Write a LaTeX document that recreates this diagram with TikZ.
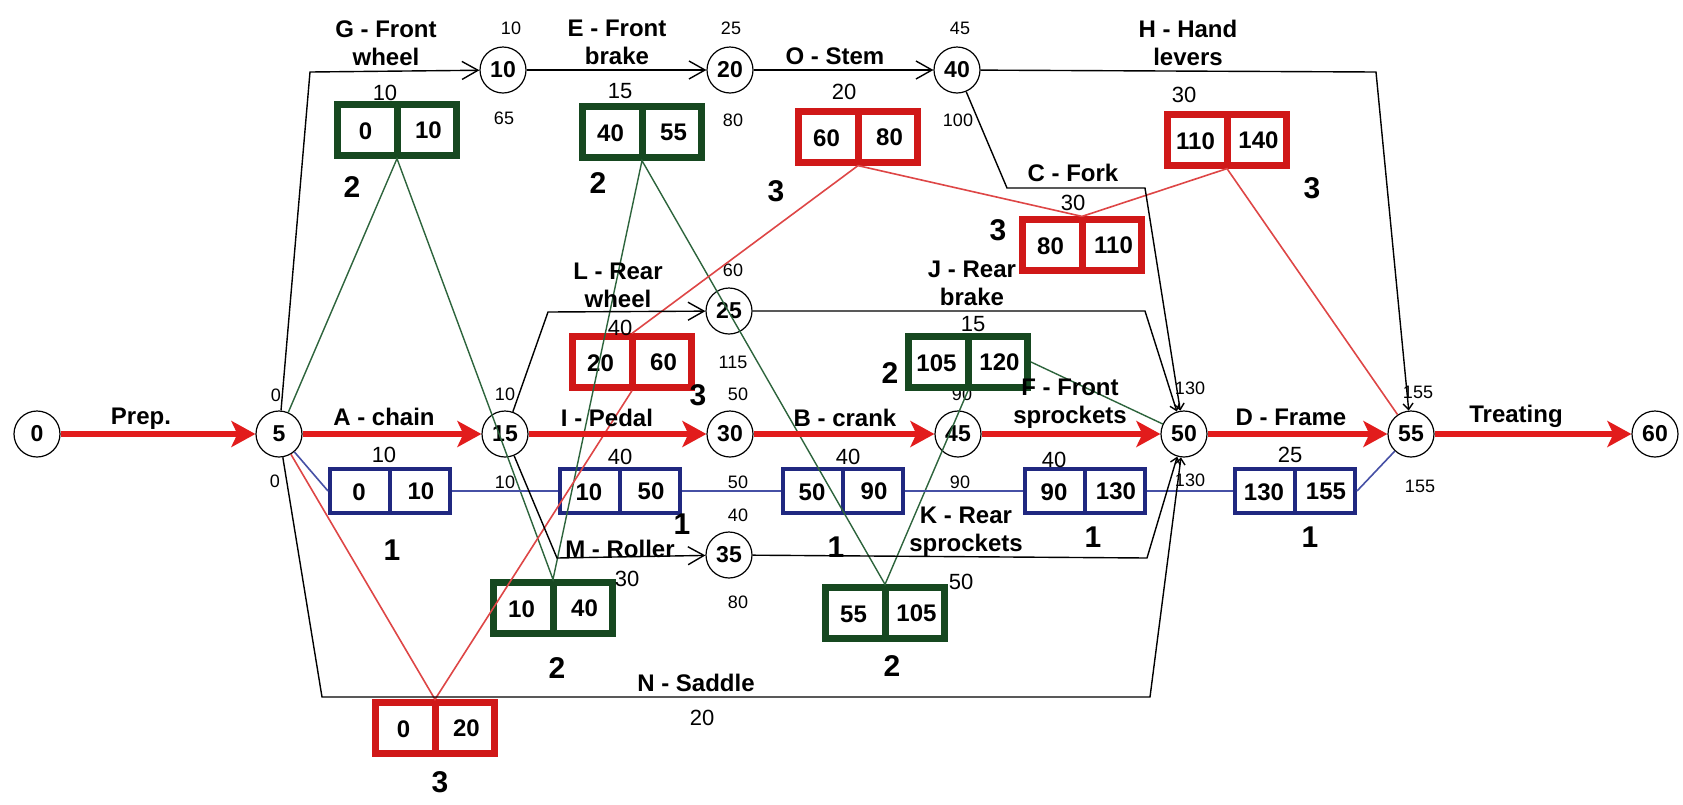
\documentclass[tikz,border=0pt]{standalone}
\usepackage{fontspec}
\setmainfont{Liberation Sans}
\usetikzlibrary{arrows.meta,shapes.multipart}
\definecolor{critred}{RGB}{226,28,28}
\definecolor{teamgreen}{RGB}{22,72,32}
\definecolor{teamred}{RGB}{208,24,24}
\definecolor{teamblue}{RGB}{32,40,128}
\definecolor{linkgreen}{RGB}{45,100,60}
\definecolor{linkred}{RGB}{222,70,70}
\definecolor{linkblue}{RGB}{70,80,165}

\begin{document}
\begin{tikzpicture}[x=0.5pt,y=-0.5pt,
ev/.style={draw,circle,minimum size=23pt,inner sep=0pt,line width=.6pt,font=\fontsize{11.5}{12}\selectfont\bfseries},
crit/.style={-{Stealth[length=12pt,width=13pt,inset=3pt]},line width=2.6pt,critred},
act/.style={-{Straight Barb[length=8pt,width=9pt]},line width=.7pt},
actin/.style={-{Straight Barb[length=3pt,width=5pt]},line width=.7pt},
lbl/.style={font=\fontsize{12}{14}\selectfont\bfseries,align=center,inner sep=0pt},
dur/.style={font=\fontsize{11}{12}\selectfont,inner sep=0pt},
tm/.style={font=\fontsize{9}{10}\selectfont,inner sep=0pt},
team/.style={font=\fontsize{15}{16}\selectfont\bfseries,inner sep=0pt},
sched/.style={rectangle split,rectangle split horizontal,rectangle split parts=2,draw,text width=23pt,align=center,inner xsep=2.5pt,inner ysep=8pt,text height=9pt,text depth=0pt,font=\fontsize{12}{13}\selectfont\bfseries,line width=3.5pt},
gbox/.style={sched,draw=teamgreen},rbox/.style={sched,draw=teamred},
bbox/.style={sched,draw=teamblue,line width=2pt,text width=24pt,inner ysep=6.5pt},
glink/.style={linkgreen,line width=.7pt},rlink/.style={linkred,line width=.8pt},blink/.style={linkblue,line width=.8pt}]
\path[use as bounding box,fill=white] (0,0) rectangle (1683,804);
% events
\node[ev] (e0) at (37,434) {0};
\node[ev] (e5) at (279,434) {5};
\node[ev] (e15) at (505,434) {15};
\node[ev] (e30) at (730,434) {30};
\node[ev] (e45) at (958,434) {45};
\node[ev] (e50) at (1184,434) {50};
\node[ev] (e55) at (1411,434) {55};
\node[ev] (e60) at (1655,434) {60};
\node[ev] (e10) at (503,70) {10};
\node[ev] (e20) at (730,70) {20};
\node[ev] (e40) at (957,70) {40};
\node[ev] (e25) at (729,311) {25};
\node[ev] (e35) at (729,555) {35};
% early / late times
\foreach \n/\x/\y/\t in {5a/276/395/0,5b/275/481/0,15a/505/394/10,15b/505/482/10,30a/738/394/50,30b/738/482/50,45a/962/394/90,45b/960/482/90,
50a/1190/388/130,50b/1190/480/130,55a/1418/392/155,55b/1420/486/155,10a/511/28/10,10b/504/118/65,20a/731/28/25,20b/733/120/80,
40a/960/28/45,40b/958/120/100,25a/733/270/60,25b/733/362/115,35a/738/515/40,35b/738/602/80}
  \node[tm] (t\n) at (\x,\y) {\t};
% schedule boxes
\node[gbox] (bG) at (397,130) {0\nodepart{two}10};
\node[gbox] (bE) at (642,132) {40\nodepart{two}55};
\node[gbox] (bM) at (553,608) {10\nodepart{two}40};
\node[gbox] (bK) at (885,613) {55\nodepart{two}105};
\node[gbox] (bJ) at (968,362) {105\nodepart{two}120};
\node[rbox] (bO) at (858,137) {60\nodepart{two}80};
\node[rbox] (bH) at (1227,140) {110\nodepart{two}140};
\node[rbox] (bC) at (1082,245) {80\nodepart{two}110};
\node[rbox] (bL) at (632,362) {20\nodepart{two}60};
\node[rbox] (bN) at (435,728) {0\nodepart{two}20};
\node[bbox] (bA) at (390,491) {0\nodepart{two}10};
\node[bbox] (bI) at (620,491) {10\nodepart{two}50};
\node[bbox] (bB) at (843,491) {50\nodepart{two}90};
\node[bbox] (bF) at (1085,491) {90\nodepart{two}130};
\node[bbox] (bD) at (1295,491) {130\nodepart{two}155};
% schedule links
\draw[glink] (e5)--(bG.south)--(bM.north)--(bE.south)--(bK.north)--(bJ.south);\draw[glink] (bJ.east)--(e50);
\draw[rlink] (e5)--(bN.north)--(bL.south);\draw[rlink] (bL.north)--(bO.south)--(bC.north)--(bH.south)--(e55);
\draw[blink] (e5)--(bA.west);\draw[blink] (bA.east)--(bI.west);\draw[blink] (bI.east)--(bB.west);
\draw[blink] (bB.east)--(bF.west);\draw[blink] (bF.east)--(bD.west);\draw[blink] (bD.east)--(e55);
% activities
\draw[act] (e5)--(310,72)--(e10);\draw[act] (e10)--(e20);\draw[act] (e20)--(e40);
\draw[actin] (e40)--(1376,72)--(e55);
\draw[actin] (e40)--(1007,188)--(1145,188)--(e50);
\draw[act] (e15)--(548,312)--(e25);\draw[actin] (e25)--(1145,311)--(e50);
\draw[act] (e15)--(557,558)--(e35);\draw[actin] (e35)--(1147,558)--(e50);
\draw[actin] (e5)--(322,697)--(1150,697)--(e50);
\draw[crit] (e0)--(e5);\draw[crit] (e5)--(e15);\draw[crit] (e15)--(e30);\draw[crit] (e30)--(e45);
\draw[crit] (e45)--(e50);\draw[crit] (e50)--(e55);\draw[crit] (e55)--(e60);
% activity labels
\node[lbl] (lPrep) at (141,419) {Prep.};
\node[lbl] (lA) at (384,417) {A - chain};\node[dur] (dA) at (384,455) {10};
\node[lbl] (lI) at (607,418) {I - Pedal};\node[dur] (dI) at (620,457) {40};
\node[lbl] (lB) at (845,418) {B - crank};\node[dur] (dB) at (848,457) {40};
\node[lbl] (lF) at (1070,404) {F - Front\\sprockets};\node[dur] (dF) at (1054,460) {40};
\node[lbl] (lD) at (1291,417) {D - Frame};\node[dur] (dD) at (1290,455) {25};
\node[lbl] (lT) at (1516,416) {Treating};
\node[lbl] (lG) at (386,43) {G - Front\\wheel};\node[dur] (dG) at (385,93) {10};
\node[lbl] (lE) at (617,42) {E - Front\\brake};\node[dur] (dE) at (620,91) {15};
\node[lbl] (lO) at (835,56) {O - Stem};\node[dur] (dO) at (844,92) {20};
\node[lbl] (lH) at (1188,43) {H - Hand\\levers};\node[dur] (dH) at (1184,95) {30};
\node[lbl] (lC) at (1073,173) {C - Fork};\node[dur] (dC) at (1073,203) {30};
\node[lbl] (lL) at (618,285) {L - Rear\\wheel};\node[dur] (dL) at (620,328) {40};
\node[lbl] (lJ) at (972,283) {J - Rear\\brake};\node[dur] (dJ) at (973,324) {15};
\node[lbl] (lM) at (620,549) {M - Roller};\node[dur] (dM) at (627,579) {30};
\node[lbl] (lK) at (966,532) {K - Rear\\sprockets};\node[dur] (dK) at (961,582) {50};
\node[lbl] (lN) at (696,683) {N - Saddle};\node[dur] (dN) at (702,718) {20};
% teams
\foreach \n/\x/\y/\t in {G/352/187/2,E/598/183/2,O/776/191/3,H/1312/188/3,C/998/230/3,L/698/395/3,N/440/782/3,M/557/668/2,
K/892/666/2,J/890/373/2,A/392/550/1,I/682/524/1,B/836/547/1,F/1093/537/1,D/1310/537/1}
  \node[team] (k\n) at (\x,\y) {\t};
\end{tikzpicture}
\end{document}
